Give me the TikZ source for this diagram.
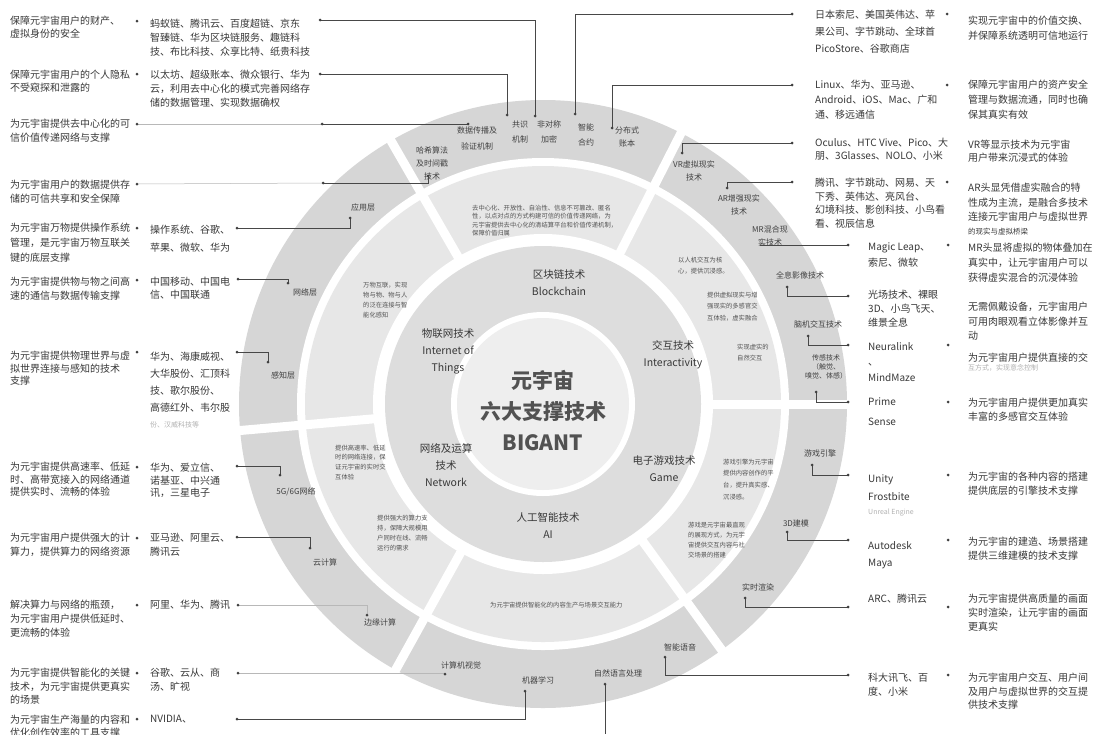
\documentclass[tikz,border=0pt]{standalone}
\usepackage{fontspec}
\setmainfont{Noto Sans CJK SC}
\usetikzlibrary{calc}

\begin{document}
\begin{tikzpicture}[x=1pt,y=1pt,
	desc/.style={anchor=north west,align=left,inner sep=0pt,text=black!78,font=\fontsize{10}{#1}\selectfont},
	desc/.default=14,
	side/.style={anchor=north west,align=left,inner sep=0pt,text=black!78,font=\fontsize{10}{#1}\selectfont},
	side/.default=14,
	ringlab/.style={align=center,inner sep=0pt,text=black!75,font=\fontsize{8}{13}\selectfont},
	segtext/.style={anchor=north west,align=left,inner sep=0pt,text=black!68,font=\fontsize{6.3}{#1}\selectfont},
	segtext/.default=10,
	tech/.style={align=center,inner sep=0pt,text=black!78,font=\fontsize{10.5}{17}\selectfont},
	wire/.style={draw=black!72,line width=0.7pt},
	faint/.style={draw=black!28,line width=0.5pt}]
	\fill[white] (0,0) rectangle (1099,-734);
	\useasboundingbox (0,0) rectangle (1099,-734);

	% rings
	\coordinate (C) at (543,-404);
	\fill[gray!32] (C) circle (304);
	\fill[white] (C) circle (246);
	\fill[gray!19] (C) circle (238);
	\foreach \a in {0,63,120,185,241,306}
		\draw[white,line width=9pt] ($(C)+(\a:160)$) -- ($(C)+(\a:312)$);
	\fill[white] (C) circle (170);
	\fill[gray!27] (C) circle (158);
	\fill[white] (C) circle (92);
	\fill[gray!13] (C) circle (86);

	\node[font=\bfseries\fontsize{21}{31}\selectfont,text=black!68,align=center,inner sep=0pt] (core) at (543,-411) {元宇宙\\六大支撑技术\\BIGANT};

	\node[tech=19] (blk) at (559,-283) {区块链技术\\Blockchain};
	\node[tech] (iot) at (448,-351) {物联网技术\\Internet of\\Things};
	\node[tech] (ita) at (673,-355) {交互技术\\Interactivity};
	\node[tech] (net) at (446,-465) {网络及运算\\技术\\Network};
	\node[tech] (gam) at (664,-469) {电子游戏技术\\Game};
	\node[tech] (ai) at (548,-526) {人工智能技术\\AI};

	% middle ring
	\node[segtext=8.5] (sblk) at (472,-204.5) {去中心化、开放性、自治性、信息不可篡改、匿名\\性，以点对点的方式构建可信的价值传递网络，为\\元宇宙提供去中心化的清结算平台和价值传递机制，\\保障价值归属};
	\node[segtext] (siot) at (363,-281.5) {万物互联，实现\\物与物、物与人\\的泛在连接与智\\能化感知};
	\node[segtext=11.5] (sita1) at (678,-256.5) {以人机交互为核\\心，提供沉浸感。};
	\node[segtext=11.5] (sita2) at (707,-291.5) {提供虚拟现实与增\\强现实的多感官交\\互体验，虚实融合};
	\node[segtext=11] (sita3) at (737,-343.5) {实现虚实的\\自然交互};
	\node[segtext=11.7] (sgam1) at (723,-458.5) {游戏引擎为元宇宙\\提供内容创作的平\\台，提升真实感、\\沉浸感。};
	\node[segtext] (sgam2) at (688,-521.5) {游戏是元宇宙最直观\\的展现方式，为元宇\\宙提供交互内容与社\\交场景的搭建};
	\node[segtext] (sai) at (490,-601.5) {为元宇宙提供智能化的内容生产与场景交互能力};
	\node[segtext=9.7] (snet1) at (335,-444.5) {提供高速率、低延\\时的网络连接，保\\证元宇宙的实时交\\互体验};
	\node[segtext] (snet2) at (377,-514.5) {提供强大的算力支\\持，保障大规模用\\户同时在线、流畅\\运行的需求};

	% outer ring
	\node[ringlab] (hash) at (432,-163) {哈希算法\\及时间戳\\技术};
	\node[ringlab,font=\fontsize{8}{16}\selectfont] (dsem) at (477,-138) {数据传播及\\验证机制};
	\node[ringlab,font=\fontsize{8}{15}\selectfont] (cons) at (520,-132) {共识\\机制};
	\node[ringlab,font=\fontsize{8}{15}\selectfont] (asym) at (549,-132) {非对称\\加密};
	\node[ringlab,font=\fontsize{8}{15}\selectfont] (smart) at (586,-135) {智能\\合约};
	\node[ringlab] (ledger) at (627,-137) {分布式\\账本};
	\node[ringlab] (app) at (363,-207) {应用层};
	\node[ringlab] (netl) at (305,-292) {网络层};
	\node[ringlab] (sense) at (283,-375) {感知层};
	\node[ringlab] (fiveg) at (296,-492) {5G/6G网络};
	\node[ringlab] (cloud) at (325,-562) {云计算};
	\node[ringlab] (edge) at (380,-622) {边缘计算};
	\node[ringlab] (cv) at (461,-665) {计算机视觉};
	\node[ringlab] (ml) at (538,-680) {机器学习};
	\node[ringlab] (nlp) at (618,-673) {自然语言处理};
	\node[ringlab] (voice) at (680,-647) {智能语音};
	\node[ringlab] (render) at (758,-587) {实时渲染};
	\node[ringlab] (model) at (796,-523) {3D建模};
	\node[ringlab] (engine) at (820,-453) {游戏引擎};
	\node[ringlab] (vr) at (694,-171) {VR虚拟现实\\技术};
	\node[ringlab] (ar) at (739,-205) {AR增强现实\\技术};
	\node[ringlab] (mr) at (770,-236) {MR混合现\\实技术};
	\node[ringlab] (holo) at (800,-275) {全息影像技术};
	\node[ringlab] (bci) at (818,-324) {脑机交互技术};
	\node[ringlab,font=\fontsize{7}{9}\selectfont] (sensor) at (826,-367) {传感技术\\（触觉、\\嗅觉、体感）};

	% left columns
	\node[desc=13] (a1) at (10,-16) {保障元宇宙用户的财产、\\虚拟身份的安全};
	\node[desc=13] (a2) at (10,-70) {保障元宇宙用户的个人隐私\\不受窥探和泄露的};
	\node[desc] (a3) at (10,-119) {为元宇宙提供去中心化的可\\信价值传递网络与支撑};
	\node[desc] (a4) at (10,-180) {为元宇宙用户的数据提供存\\储的可信共享和安全保障};
	\node[desc=15] (a5) at (10,-223) {为元宇宙万物提供操作系统\\管理，是元宇宙万物互联关\\键的底层支撑};
	\node[desc] (a6) at (10,-277) {为元宇宙提供物与物之间高\\速的通信与数据传输支撑};
	\node[desc=12.5] (a7) at (10,-351) {为元宇宙提供物理世界与虚\\拟世界连接与感知的技术\\支撑};
	\node[desc=12.5] (a8) at (10,-462) {为元宇宙提供高速率、低延\\时、高带宽接入的网络通道\\提供实时、流畅的体验};
	\node[desc] (a9) at (10,-533) {为元宇宙用户提供强大的计\\算力，提供算力的网络资源};
	\node[desc] (a10) at (10,-600) {解决算力与网络的瓶颈，\\为元宇宙用户提供低延时、\\更流畅的体验};
	\node[desc=13.5] (a11) at (10,-668) {为元宇宙提供智能化的关键\\技术，为元宇宙提供更真实\\的场景};
	\node[desc=13] (a12) at (10,-715) {为元宇宙生产海量的内容和\\优化创作效率的工具支撑};

	\node[desc] (b1) at (150,-19) {蚂蚁链、腾讯云、百度超链、京东\\智臻链、华为区块链服务、趣链科\\技、布比科技、众享比特、纸贵科技};
	\node[desc] (b2) at (150,-70) {以太坊、超级账本、微众银行、华为\\云，利用去中心化的模式完善网络存\\储的数据管理、实现数据确权};
	\node[desc=18] (b5) at (150,-225) {操作系统、谷歌、\\苹果、微软、华为};
	\node[desc=13] (b6) at (150,-277) {中国移动、中国电\\信、中国联通};
	\node[desc=17] (b7) at (150,-352) {华为、海康威视、\\大华股份、汇顶科\\技、歌尔股份、\\高德红外、韦尔股};
	\node[desc,text=black!30,font=\fontsize{7}{9}\selectfont] (b7x) at (150,-421.5) {份、汉威科技等};
	\node[desc=12.5] (b8) at (150,-463) {华为、爱立信、\\诺基亚、中兴通\\讯，三星电子};
	\node[desc] (b9) at (150,-533) {亚马逊、阿里云、\\腾讯云};
	\node[desc] (b10) at (150,-600) {阿里、华为、腾讯};
	\node[desc] (b11) at (150,-668) {谷歌、云从、商\\汤、旷视};
	\node[desc] (b12) at (150,-715) {NVIDIA、};

	% right columns
	\node[side=17] (c1) at (815,-10) {日本索尼、美国英伟达、苹\\果公司、字节跳动、全球首\\PicoStore、谷歌商店};
	\node[side=15] (c2) at (815,-80) {Linux、华为、亚马逊、\\Android、iOS、Mac、广和\\通、移远通信};
	\node[side=13] (c3) at (815,-138) {Oculus、HTC Vive、Pico、大\\朋、3Glasses、NOLO、小米};
	\node[side=13.5] (c4) at (815,-178) {腾讯、字节跳动、网易、天\\下秀、英伟达、亮风台、\\幻境科技、影创科技、小鸟看\\看、视辰信息};
	\node[side=16] (c5) at (868,-243) {Magic Leap、\\索尼、微软};
	\node[side] (c6) at (868,-290) {光场技术、裸眼\\3D、小鸟飞天、\\维景全息};
	\node[side=15.5] (c7) at (868,-342) {Neuralink\\、\\MindMaze};
	\node[side=20] (c8) at (868,-398) {Prime\\Sense};
	\node[side=18] (c9) at (868,-475) {Unity\\Frostbite};
	\node[side,text=black!30,font=\fontsize{7}{9}\selectfont] (c9x) at (868,-508.5) {Unreal Engine};
	\node[side=17] (c10) at (868,-541) {Autodesk\\Maya};
	\node[side] (c11) at (868,-594) {ARC、腾讯云};
	\node[side] (c12) at (868,-673) {科大讯飞、百\\度、小米};

	\node[side=15] (d1) at (968,-16) {实现元宇宙中的价值交换、\\并保障系统透明可信地运行};
	\node[side=15] (d2) at (968,-80) {保障元宇宙用户的资产安全\\管理与数据流通，同时也确\\保其真实有效};
	\node[side=13] (d3) at (968,-140) {VR等显示技术为元宇宙\\用户带来沉浸式的体验};
	\node[side=14.5] (d4) at (968,-183) {AR头显凭借虚实融合的特\\性成为主流，是融合多技术\\连接元宇宙用户与虚拟世界};
	\node[side,font=\fontsize{7.5}{9}\selectfont] (d4x) at (968,-227.5) {的现实与虚拟桥梁};
	\node[side=15] (d5) at (968,-243) {MR头显将虚拟的物体叠加在\\真实中，让元宇宙用户可以\\获得虚实混合的沉浸体验};
	\node[side=14.5] (d6) at (968,-302) {无需佩戴设备，元宇宙用户\\可用肉眼观看立体影像并互\\动};
	\node[side] (d7) at (968,-353) {为元宇宙用户提供直接的交};
	\node[side,text=black!30,font=\fontsize{7}{9}\selectfont] (d7x) at (968,-364.5) {互方式，实现意念控制};
	\node[side] (d8) at (968,-398) {为元宇宙用户提供更加真实\\丰富的多感官交互体验};
	\node[side=13.5] (d9) at (968,-472) {为元宇宙的各种内容的搭建\\提供底层的引擎技术支撑};
	\node[side=13.5] (d10) at (968,-537) {为元宇宙的建造、场景搭建\\提供三维建模的技术支撑};
	\node[side] (d11) at (968,-594) {为元宇宙提供高质量的画面\\实时渲染，让元宇宙的画面\\更真实};
	\node[side=13.5] (d12) at (968,-673) {为元宇宙用户交互、用户间\\及用户与虚拟世界的交互提\\供技术支撑};

	% dots
	\coordinate (LA1) at (137,-21);
	\coordinate (LA2) at (137,-74);
	\coordinate (LA3) at (137,-124);
	\coordinate (LA4) at (137,-184);
	\coordinate (LA5) at (137,-228);
	\coordinate (LA6) at (137,-280);
	\coordinate (LA7) at (137,-352);
	\coordinate (LA8) at (137,-467);
	\coordinate (LA9) at (137,-538);
	\coordinate (LA10) at (137,-605);
	\coordinate (LA11) at (137,-673);
	\coordinate (LA12) at (137,-719);
	\coordinate (LB1) at (320,-20);
	\coordinate (LB2) at (320,-74);
	\coordinate (LB3) at (322,-124);
	\coordinate (LB4) at (323,-183);
	\coordinate (LB5) at (237,-228);
	\coordinate (LB6) at (238,-279);
	\coordinate (LB7) at (237,-352);
	\coordinate (LB8) at (237,-466);
	\coordinate (LB9) at (237,-537);
	\coordinate (LB10) at (238,-605);
	\coordinate (LB11) at (238,-673);
	\coordinate (LB12) at (237,-719);
	\coordinate (RC1) at (792,-14);
	\coordinate (RC2) at (792,-85);
	\coordinate (RC3) at (792,-143);
	\coordinate (RC4) at (792,-182);
	\coordinate (RC5) at (848,-245);
	\coordinate (RC6) at (848,-296);
	\coordinate (RC7) at (848,-345);
	\coordinate (RC8) at (848,-402);
	\coordinate (RC9) at (848,-475);
	\coordinate (RC10) at (848,-540);
	\coordinate (RC11) at (848,-607);
	\coordinate (RC12) at (848,-675);
	\coordinate (RD1) at (947,-14);
	\coordinate (RD2) at (947,-85);
	\coordinate (RD4) at (947,-182);
	\coordinate (RD5) at (948,-245);
	\coordinate (RD7) at (948,-345);
	\coordinate (RD8) at (948,-402);
	\coordinate (RD9) at (948,-475);
	\coordinate (RD10) at (948,-540);
	\coordinate (RD11) at (948,-607);
	\coordinate (RD12) at (948,-675);
	\coordinate (hashpt) at (428,-176);
	\coordinate (dsempt) at (468,-124);
	\coordinate (conspt) at (507,-115);
	\coordinate (asympt) at (535,-116);
	\coordinate (smartpt) at (575,-114);
	\coordinate (ledgerpt) at (612,-128);
	\coordinate (apppt) at (350,-218);
	\coordinate (netlpt) at (288,-283);
	\coordinate (sensept) at (268,-362);
	\coordinate (fivegpt) at (280,-475);
	\coordinate (cloudpt) at (310,-548);
	\coordinate (edgept) at (367,-615);
	\coordinate (cvpt) at (445,-674);
	\coordinate (mlpt) at (525,-691);
	\coordinate (nlppt) at (605,-684);
	\coordinate (nlpend) at (605,-734);
	\coordinate (voicept) at (665,-657);
	\coordinate (renderpt) at (745,-598);
	\coordinate (modelpt) at (787,-532);
	\coordinate (enginept) at (812,-465);
	\coordinate (vrpt) at (682,-153);
	\coordinate (arpt) at (727,-188);
	\coordinate (mrpt) at (760,-245);
	\coordinate (holopt) at (787,-287);
	\coordinate (bcipt) at (808,-336);
	\coordinate (sensorpt) at (816,-392);

	\draw[faint] (LA3) -- (LB3);
	\draw[faint] (LA4) -- (LB4);
	\draw[wire] (LB1) -| (asympt);
	\draw[wire] (LB2) -| (conspt);
	\draw[wire] (LB3) -- (dsempt);
	\draw[wire] (LB4) -| (hashpt);
	\draw[wire] (LB5) -| (apppt);
	\draw[wire] (LB6) -| (netlpt);
	\draw[wire] (LB7) -| (sensept);
	\draw[wire] (LB8) -| (fivegpt);
	\draw[wire] (LB9) -| (cloudpt);
	\draw[faint] (LB10) -| (edgept);
	\draw[faint] (LB11) -| (cvpt);
	\draw[wire] (LB12) -| (mlpt);
	\draw[wire] (RC1) -| (smartpt);
	\draw[wire] (RC2) -| (ledgerpt);
	\draw[wire] (RC3) -| (vrpt);
	\draw[wire] (RC4) -| (arpt);
	\draw[wire] (RC5) -- (mrpt);
	\draw[wire] (RC6) -| (holopt);
	\draw[wire] (RC7) -| (bcipt);
	\draw[wire] (RC8) -| (sensorpt);
	\draw[wire] (RC9) -| (enginept);
	\draw[wire] (RC10) -| (modelpt);
	\draw[wire] (RC11) -| (renderpt);
	\draw[wire] (RC12) -| (voicept);
	\draw[wire] (nlppt) -- (nlpend);

	\foreach \P in {LA1,LA2,LA3,LA4,LA5,LA6,LA7,LA8,LA9,LA10,LA11,LA12,LB1,LB2,LB3,LB4,LB5,LB6,LB7,LB8,LB9,LB10,LB11,LB12,RC1,RC2,RC3,RC4,RC5,RC6,RC7,RC8,RC9,RC10,RC11,RC12,RD1,RD2,RD4,RD5,RD7,RD8,RD9,RD10,RD11,RD12,hashpt,dsempt,conspt,asympt,smartpt,ledgerpt,apppt,netlpt,sensept,fivegpt,cloudpt,edgept,cvpt,mlpt,nlppt,voicept,renderpt,modelpt,enginept,vrpt,arpt,holopt,bcipt,sensorpt} \fill[black!75] (\P) circle (1.5);
\end{tikzpicture}
\end{document}
